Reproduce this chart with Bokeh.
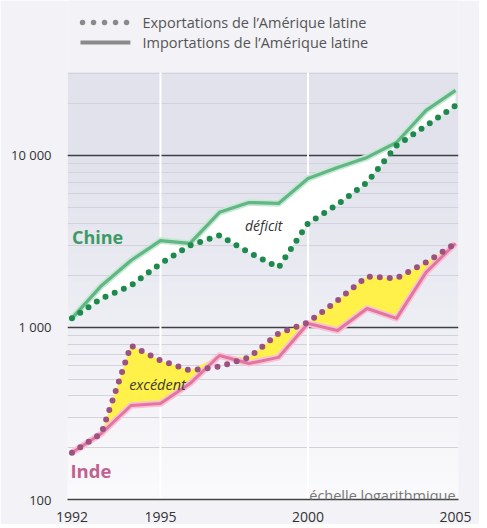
import numpy as np
from bokeh.plotting import figure
from bokeh.models import Range1d, FixedTicker, Label, ColumnDataSource
from bokeh.core.properties import value
from bokeh.embed import file_html
from bokeh.resources import INLINE

# ---- data (millions USD) ----
years = [1992, 1993, 1994, 1995, 1996, 1997, 1998, 1999, 2000, 2001, 2002, 2003, 2004, 2005]
chine_exports = [1130, 1475, 1750, 2350, 3000, 3430, 2730, 2230, 4030, 5190, 6960, 11400, 14900, 19500]
chine_imports = [1130, 1750, 2450, 3200, 3080, 4670, 5330, 5260, 7350, 8510, 9740, 11900, 18300, 23900]
inde_exports = [187, 242, 785, 643, 562, 593, 670, 922, 1070, 1436, 1980, 1930, 2390, 3080]
inde_imports = [187, 242, 352, 361, 472, 687, 618, 670, 1055, 960, 1290, 1130, 2090, 3080]

x_ticks = [1992, 1995, 2000, 2005]
x_grid = [1995, 2000]
y_ticks = [100, 1000, 10000]
y_tick_labels = {100: "100", 1000: "1 000", 10000: "10 000"}
y_minor = [200, 300, 400, 500, 600, 700, 800, 900,
           2000, 3000, 4000, 5000, 6000, 7000, 8000, 9000, 20000, 30000]
legend_labels = ["Exportations de l\u2019Am\u00e9rique latine",
                 "Importations de l\u2019Am\u00e9rique latine"]

FONT = "Open Sans"
PAGE_BG = "#f2f2f7"

X0, X1 = 1991.85, 2005.1      # plotted years
Y0, Y1 = 100, 30400           # shaded chart area (values)
YTOP = 79600                  # extra room above the chart for the key

p = figure(width=479, height=524, y_axis_type="log",
           x_range=Range1d(X0, X1), y_range=Range1d(Y0, YTOP),
           output_backend="svg", toolbar_location=None,
           min_border_left=67, min_border_right=21, min_border_top=0, min_border_bottom=25)
p.border_fill_color = PAGE_BG
p.background_fill_color = PAGE_BG
p.outline_line_color = None

# vertical gradient background of the chart area
n = 200
img = np.zeros((n, 1), dtype=np.uint32)
view = img.view(dtype=np.uint8).reshape((n, 1, 4))
top = np.array([226, 226, 237])
bot = np.array([251, 251, 253])
for i in range(n):
    t = i / (n - 1)  # 0 at bottom, 1 at top
    t2 = min(1.0, t * 1.25)
    c = bot + (top - bot) * t2
    view[i, 0, 0:3] = c.astype(np.uint8)
    view[i, 0, 3] = 255
p.image_rgba(image=[img], x=X0, y=Y0, dw=X1 - X0, dh=Y1 - Y0, level="image")

# grids
p.xgrid.visible = False
p.segment(x0=x_grid, y0=[Y0] * len(x_grid), x1=x_grid, y1=[Y1] * len(x_grid),
          line_color="white", line_width=2)
p.ygrid.ticker = FixedTicker(ticks=y_ticks, minor_ticks=y_minor)
p.ygrid.grid_line_color = "#3f3f46"
p.ygrid.grid_line_width = 1.5
p.ygrid.minor_grid_line_color = "#d2d2da"
p.ygrid.minor_grid_line_width = 1

# axes
p.xaxis.ticker = FixedTicker(ticks=x_ticks)
p.xaxis.axis_line_color = "#444444"
p.xaxis.axis_line_width = 1.5
p.xaxis.major_tick_line_color = None
p.xaxis.minor_tick_line_color = None
p.xaxis.major_label_standoff = 6
p.xaxis.major_label_text_font = FONT
p.xaxis.major_label_text_font_size = "14px"
p.xaxis.major_label_text_color = "#333333"

p.yaxis.ticker = FixedTicker(ticks=y_ticks)
p.yaxis.major_label_overrides = y_tick_labels
p.yaxis.axis_line_color = None
p.yaxis.major_tick_line_color = None
p.yaxis.minor_tick_line_color = None
p.yaxis.major_label_standoff = 10
p.yaxis.major_label_text_font = FONT
p.yaxis.major_label_text_font_size = "13px"
p.yaxis.major_label_text_color = "#333333"

src = ColumnDataSource(dict(
    x=years,
    ce=chine_exports, ci=chine_imports,
    ie=inde_exports, ii=inde_imports,
    ie_top=list(np.maximum(inde_exports, inde_imports)),
))

# fills
p.varea(x="x", y1="ce", y2="ci", source=src, fill_color="white", fill_alpha=1)
p.varea(x="x", y1="ii", y2="ie_top", source=src, fill_color="#fff04a", fill_alpha=1)

# halos
p.line("x", "ci", source=src, line_color="#c4e8d1", line_width=6.5, line_join="round")
p.line("x", "ii", source=src, line_color="#f7c2d8", line_width=6.5, line_join="round")

# solid lines (imports)
p.line("x", "ci", source=src, line_color="#62b685", line_width=3.2, line_join="round")
p.line("x", "ii", source=src, line_color="#e3759f", line_width=3.0, line_join="round")

# dotted lines (exports)
p.line("x", "ce", source=src, line_color="#1b8a4a", line_width=6, line_dash="0 10",
       line_cap="round", line_join="round")
p.line("x", "ie", source=src, line_color="#9b5280", line_width=6, line_dash="0 10",
       line_cap="round", line_join="round")

# key above the chart area
KEY_Y = [59300, 45400]
p.line([1992.36, 1993.88], [KEY_Y[0]] * 2, line_color="#8a8a8a", line_width=5.5,
       line_dash="0 11", line_cap="round")
p.line([1992.29, 1993.98], [KEY_Y[1]] * 2, line_color="#8a8a8a", line_width=4)
p.text(x=[1994.39, 1994.39], y=KEY_Y, text=legend_labels, text_font=value(FONT),
       text_font_size="14.5px", text_color="#555555", text_baseline="middle")

# text annotations
p.add_layout(Label(x=1992.0, y=3380, text="Chine", text_font=FONT, text_font_size="18px",
                   text_font_style="bold", text_color="#3c9a64", text_baseline="middle"))
p.add_layout(Label(x=1991.95, y=147, text="Inde", text_font=FONT, text_font_size="18.5px",
                   text_font_style="bold", text_color="#c2618f", text_baseline="middle"))
p.add_layout(Label(x=1998.5, y=3917, text="d\u00e9ficit", text_font=FONT, text_font_size="14px",
                   text_font_style="italic", text_color="#333333", text_align="center",
                   text_baseline="middle"))
p.add_layout(Label(x=1994.9, y=467, text="exc\u00e9dent", text_font=FONT, text_font_size="14.5px",
                   text_font_style="italic", text_color="#3a3a2a", text_align="center",
                   text_baseline="middle"))
p.add_layout(Label(x=2005.0, y=105, text="\u00e9chelle logarithmique", text_font=FONT,
                   text_font_size="14.5px", text_color="#777777", text_align="right",
                   text_baseline="alphabetic"))

open("out.html", "w").write(file_html(p, INLINE))
